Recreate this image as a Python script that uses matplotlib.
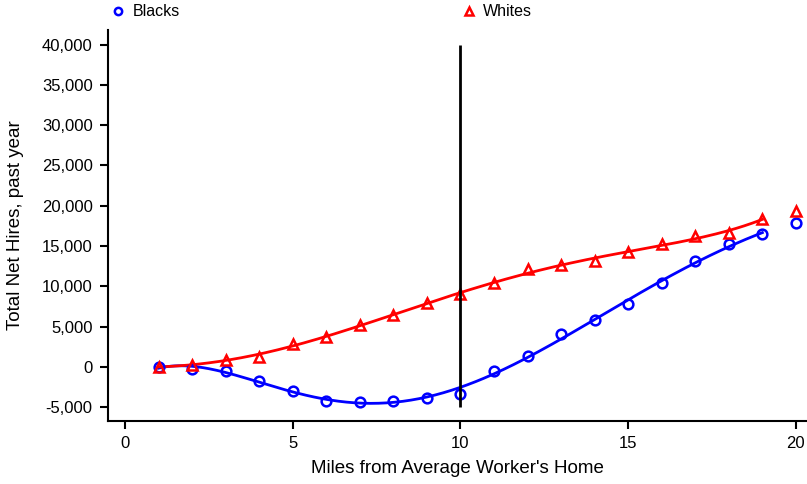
import numpy as np
import matplotlib.pyplot as plt
from matplotlib.ticker import FuncFormatter

plt.rcParams['font.family'] = ['Liberation Sans', 'DejaVu Sans']

# miles from the average worker's home
miles = np.arange(1, 21)

# total net hires, past year
blacks = [0, -300, -500, -1800, -3000, -4200, -4300, -4200, -3900, -3300,
          -500, 1400, 4100, 5800, 7800, 10400, 13200, 15200, 16500, 17900]
whites = [0, 300, 900, 1300, 2900, 3700, 5200, 6400, 7900, 9100,
          10400, 12100, 12600, 13100, 14300, 15200, 16200, 16600, 18400, 19300]

fit_deg = 6
fit_end = 19   # smooth curves drawn only over 1..19

fig = plt.figure(figsize=(8.07, 4.84), dpi=100)
ax = fig.add_axes([108/807, 1 - 421/484, 1 - 108/807, (421 - 30)/484])

xs = np.linspace(1, fit_end, 300)
m = miles <= fit_end
pb = np.polyfit(miles[m], np.array(blacks)[m], fit_deg)
pw = np.polyfit(miles[m], np.array(whites)[m], fit_deg)
ax.plot(xs, np.polyval(pb, xs), color='#0000ff', lw=2)
ax.plot(xs, np.polyval(pw, xs), color='#ff0000', lw=2)

ax.plot(miles, blacks, 'o', mfc='none', mec='#0000ff', mew=1.8, ms=7, label='Blacks')
ax.plot(miles, whites, '^', mfc='none', mec='#ff0000', mew=1.8, ms=7.5, label='Whites')

ax.vlines(10, -5000, 40000, color='black', lw=2)

ax.set_xlim(-0.507, 20.33)
ax.set_ylim(-6700, 41800)
ax.set_xticks([0, 5, 10, 15, 20])
ax.set_yticks(np.arange(-5000, 40001, 5000))
ax.yaxis.set_major_formatter(FuncFormatter(lambda v, p: f'{int(v):,}'))

for s in ['top', 'right']:
    ax.spines[s].set_visible(False)
for s in ['left', 'bottom']:
    ax.spines[s].set_linewidth(1.5)
ax.tick_params(width=1.5, length=6, pad=5, labelsize=12, colors='black')

ax.set_xlabel("Miles from Average Worker's Home", fontsize=13.5, labelpad=6)
ax.set_ylabel('Total Net Hires, past year', fontsize=13.5)
ax.yaxis.set_label_coords(-0.12, 0.5)

fig.legend(*ax.get_legend_handles_labels(), loc='center left',
           bbox_to_anchor=(103.6/807, 1 - 12/484), ncol=2, frameon=False,
           fontsize=11.5, handlelength=1, handletextpad=0.4, columnspacing=17.6,
           markerscale=0.75, borderaxespad=0)

plt.savefig('out.png', dpi=100)
